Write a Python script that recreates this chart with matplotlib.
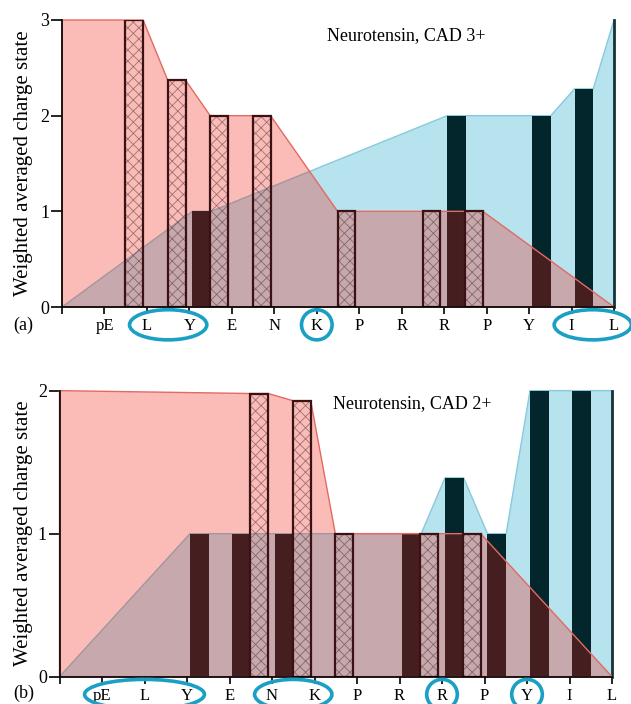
import matplotlib
matplotlib.use("Agg")
import matplotlib.pyplot as plt
from matplotlib.patches import Ellipse
from matplotlib.transforms import blended_transform_factory
import numpy as np

plt.rcParams['font.family'] = ['Liberation Serif', 'DejaVu Serif']
plt.rcParams['hatch.linewidth'] = 0.6

# residue labels at x = 0..13 (first tick has no label)
residues = ['', 'pE', 'L', 'Y', 'E', 'N', 'K', 'P', 'R', 'R', 'P', 'Y', 'I', 'L']

# panel (a): CAD 3+
c_pos_a = [2, 3, 4, 5, 7, 9, 10]
c_val_a = [3.0, 2.37, 2.0, 2.0, 1.0, 1.0, 1.0]
z_pos_a = [3, 9, 11, 12]
z_val_a = [1.0, 2.0, 2.0, 2.28]
red_start_a = 3.0
blue_end_a = 3.0
circles_a = [(2, 3), (6, 6), (12, 13)]

# panel (b): CAD 2+
c_pos_b = [5, 6, 7, 9, 10]
c_val_b = [1.98, 1.93, 1.0, 1.0, 1.0]
z_pos_b = [3, 4, 5, 8, 9, 10, 11, 12]
z_val_b = [1.0, 1.0, 1.0, 1.0, 1.39, 1.0, 2.0, 2.0]
red_start_b = 2.0
blue_end_b = 2.0
circles_b = [(1, 3), (5, 6), (9, 9), (11, 11)]

C_OFF, C_W = -0.51, 0.42   # hatched bars sit just left of the tick
Z_OFF, Z_W = 0.07, 0.44    # dark bars sit just right of the tick
RED = (241/255, 16/255, 1/255, 0.28)
BLUE = '#b7e3ee'
DARK = '#03262d'
RING = '#1aa0c4'


def corners(pos, val, off, w):
    pts = []
    for p, v in zip(pos, val):
        pts += [(p + off, v), (p + off + w, v)]
    return pts


def panel(ax, c_pos, c_val, z_pos, z_val, red_start, blue_end, circles, ymax, title, tx, ty):
    n = len(residues) - 1
    blue = [(0, 0)] + corners(z_pos, z_val, Z_OFF, Z_W) + [(n, blue_end), (n, 0)]
    bx, by = zip(*blue)
    ax.fill(bx, by, facecolor=BLUE, edgecolor='#86cadb', lw=1.0, zorder=1, clip_on=False)
    ax.bar(np.array(z_pos) + Z_OFF, z_val, width=Z_W, align='edge', color=DARK, lw=0, zorder=2)
    ax.plot([n, n], [0, blue_end], color='#15343a', lw=2, zorder=3, clip_on=False)

    red = [(0, 0), (0, red_start)] + corners(c_pos, c_val, C_OFF, C_W) + [(n, 0)]
    rx, ry = zip(*red)
    ax.fill(rx, ry, facecolor=RED, edgecolor='#e36a62', lw=1.0, zorder=4, clip_on=False)

    ax.bar(np.array(c_pos) + C_OFF, c_val, width=C_W, align='edge', facecolor='none',
           edgecolor=(0.3, 0.2, 0.22, 0.55), hatch='xxx', lw=0, zorder=5)
    ax.bar(np.array(c_pos) + C_OFF, c_val, width=C_W, align='edge', facecolor='none',
           edgecolor='#3b1114', lw=1.6, zorder=6)

    ax.set_xlim(0, n)
    ax.set_ylim(0, ymax)
    ax.set_xticks(range(n + 1))
    ax.set_xticklabels(residues, fontsize=12)
    ax.set_yticks(range(int(ymax) + 1))
    ax.tick_params(axis='y', labelsize=13, length=8, width=1.2, pad=1)
    ax.tick_params(axis='x', length=5, width=1.2, pad=3)
    for s in ['top', 'right']:
        ax.spines[s].set_visible(False)
    for s in ['left', 'bottom']:
        ax.spines[s].set_linewidth(1.2)
        ax.spines[s].set_zorder(7)
    ax.set_ylabel('Weighted averaged charge state', fontsize=15)
    ax.text(tx, ty, title, transform=ax.transAxes, fontsize=13, va='center', ha='left')

    tr = blended_transform_factory(ax.transData, ax.transAxes)
    for a, b in circles:
        span = b - a
        w = span + 0.82 if span else 0.72
        ax.add_patch(Ellipse(((a + b) / 2, -0.062), w, 0.105, transform=tr,
                             fill=False, edgecolor=RING, lw=2.6, clip_on=False, zorder=8))


fig = plt.figure(figsize=(6.31, 7.04), dpi=100)
ax1 = fig.add_axes([0.0983, 0.5639, 0.8748, 0.4077])
ax2 = fig.add_axes([0.0943, 0.0388, 0.8756, 0.4063])

panel(ax1, c_pos_a, c_val_a, z_pos_a, z_val_a, red_start_a, blue_end_a, circles_a, 3,
      'Neurotensin, CAD 3+', 0.48, 0.944)
panel(ax2, c_pos_b, c_val_b, z_pos_b, z_val_b, red_start_b, blue_end_b, circles_b, 2,
      'Neurotensin, CAD 2+', 0.495, 0.955)
ax1.yaxis.set_label_coords(-0.052, 0.5)
ax2.yaxis.set_label_coords(-0.048, 0.5)

fig.text(13 / 631, 1 - 325 / 704, '(a)', fontsize=13, va='center', ha='left')
fig.text(13 / 631, 1 - 693 / 704, '(b)', fontsize=13, va='center', ha='left')

fig.savefig('out.png', dpi=100)
